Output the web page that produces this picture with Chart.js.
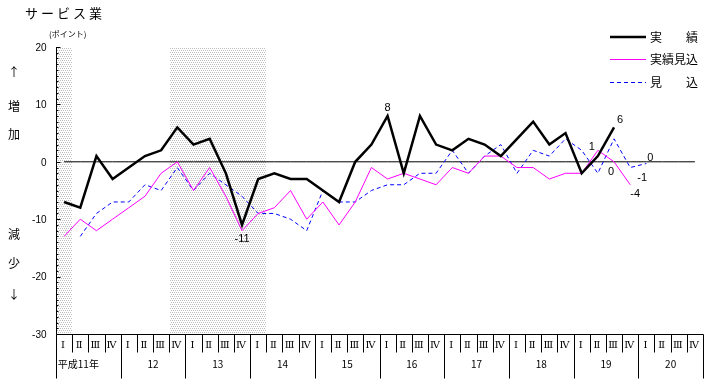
<!DOCTYPE html>
<html>
<head>
<meta charset="utf-8">
<script src="https://cdn.jsdelivr.net/npm/chart.js@4/dist/chart.umd.min.js"></script>
<style>
  html, body { margin: 0; padding: 0; background: #fff; }
</style>
</head>
<body>
<canvas id="chart" width="717" height="385"></canvas>
<script>
// 年・四半期
const years = ['平成11年', '12', '13', '14', '15', '16', '17', '18', '19', '20'];
const quarterNames = ['Ⅰ', 'Ⅱ', 'Ⅲ', 'Ⅳ'];
const yTicks = [20, 10, 0, -10, -20, -30];

// 実績
const jisseki = [-7, -8, 1, -3, -1, 1, 2, 6, 3, 4, -2, -11, -3, -2, -3, -3, -5, -7, 0, 3,
  8, -2, 8, 3, 2, 4, 3, 1, 4, 7, 3, 5, -2, 1, 6];
// 実績見込
const jissekiMikomi = [-13, -10, -12, -10, -8, -6, -2, 0, -5, -1, -6, -12, -9, -8, -5, -10, -7, -11, -7, -1,
  -3, -2, -3, -4, -1, -2, 1, 1, -1, -1, -3, -2, -2, 2, 0, -4];
// 見込
const mikomi = [null, -13, -9, -7, -7, -4, -5, -1, -5, -2, -4, -6, -9, -9, -10, -12, -5, -7, -7, -5,
  -4, -4, -2, -2, 2, -2, 1, 3, -2, 2, 1, 4, 2, -2, 4, -1, -0.3];

// 網掛け期間（四半期の番号、始めと終わり）
const shaded = [[0, 0], [7, 12]];

const labels = years.flatMap(y => quarterNames.map(q => y + q));

// 数値ラベルを付ける点
const pointLabels = [
  { ds: 0, i: 11, dx: 0, dy: 14 },
  { ds: 0, i: 20, dx: 0, dy: -8 },
  { ds: 0, i: 33, dx: -6, dy: -9 },
  { ds: 0, i: 34, dx: 6, dy: -7 },
  { ds: 1, i: 34, dx: -3, dy: 10 },
  { ds: 1, i: 35, dx: 5, dy: 9 },
  { ds: 2, i: 35, dx: 12, dy: 10 },
  { ds: 2, i: 36, dx: 4, dy: -6 },
];

const JP = '"Noto Sans CJK JP", sans-serif';
const NUM = '"Liberation Sans", Arial, sans-serif';

function dotPattern(ctx) {
  const c = document.createElement('canvas');
  c.width = 4; c.height = 4;
  const p = c.getContext('2d');
  p.fillStyle = '#bdbdbd';
  [[0, 0], [2, 0], [1, 2], [3, 2]].forEach(([x, y]) => p.fillRect(x, y, 1, 1));
  return ctx.createPattern(c, 'repeat');
}

const shading = {
  id: 'shading',
  beforeDatasetsDraw(chart) {
    const { ctx, chartArea, scales } = chart;
    const x = scales.x;
    const half = (x.getPixelForValue(1) - x.getPixelForValue(0)) / 2;
    ctx.save();
    ctx.fillStyle = dotPattern(ctx);
    shaded.forEach(([a, b]) => {
      const x1 = Math.round(x.getPixelForValue(a) - half) + 1;
      const x2 = Math.round(x.getPixelForValue(b) + half);
      ctx.fillRect(x1, chartArea.top, x2 - x1, chartArea.bottom - chartArea.top);
    });
    ctx.restore();
  }
};

const frame = {
  id: 'frame',
  afterDraw(chart) {
    const { ctx, chartArea, scales } = chart;
    const xs = scales.x, ys = scales.y;
    const left = Math.round(chartArea.left) + 0.5;
    const bottom = Math.round(chartArea.bottom) + 0.5;
    const right = Math.round(chartArea.right) + 0.5;
    const half = (xs.getPixelForValue(1) - xs.getPixelForValue(0)) / 2;
    ctx.save();
    ctx.strokeStyle = '#000';
    ctx.lineWidth = 1;
    ctx.beginPath();
    ctx.moveTo(left, chartArea.top);
    ctx.lineTo(left, bottom);
    ctx.lineTo(right, bottom);
    // 目盛
    for (let v = ys.min; v <= ys.max; v++) {
      const y = Math.round(ys.getPixelForValue(v)) + 0.5;
      const len = v % 10 === 0 ? 4 : 2;
      ctx.moveTo(left, y);
      ctx.lineTo(left + len, y);
    }
    // 区切り線
    labels.forEach((l, k) => {
      const x = Math.round(xs.getPixelForValue(k) - half) + 0.5;
      ctx.moveTo(x, bottom);
      ctx.lineTo(x, bottom + (k % 4 === 0 ? 44 : 18));
    });
    ctx.moveTo(right, bottom);
    ctx.lineTo(right, bottom + 44);
    ctx.stroke();

    ctx.fillStyle = '#000';
    ctx.textBaseline = 'middle';
    // y軸の数値
    ctx.font = '10px ' + NUM;
    ctx.textAlign = 'right';
    yTicks.forEach(v => ctx.fillText(String(v), left - 10, ys.getPixelForValue(v) + 1));

    // 四半期
    ctx.textAlign = 'center';
    ctx.font = '10px "DejaVu Serif", serif';
    labels.forEach((l, k) => {
      ctx.fillText(quarterNames[k % 4], xs.getPixelForValue(k) - 1, bottom + 11);
    });
    // 年
    ctx.font = '10px ' + JP;
    years.forEach((y, yi) => {
      const cx = (xs.getPixelForValue(yi * 4) + xs.getPixelForValue(yi * 4 + 3)) / 2;
      ctx.fillText(y, yi === 0 ? cx - 10 : cx, bottom + 30);
    });

    // タイトル
    ctx.textAlign = 'left';
    ctx.font = '13px ' + JP;
    [...'サービス業'].forEach((ch, k) => ctx.fillText(ch, 25 + k * 16, 13));
    ctx.font = '8px ' + JP;
    ctx.fillText('(ポイント)', 49, 34);

    // 左側の縦書き
    ctx.textAlign = 'center';
    ctx.font = '12px ' + JP;
    [['↑', 72], ['増', 106], ['加', 134], ['減', 234], ['少', 263], ['↓', 294]]
      .forEach(([t, y]) => ctx.fillText(t, 14, y));

    // 凡例
    const items = [
      { text: '実　　績', color: '#000', width: 2.5, dash: [], y: 37 },
      { text: '実績見込', color: '#ff00ff', width: 1, dash: [], y: 59.5 },
      { text: '見　　込', color: '#0000ff', width: 1, dash: [4, 3], y: 82.5 },
    ];
    ctx.textAlign = 'left';
    ctx.font = '12px ' + JP;
    items.forEach(it => {
      ctx.beginPath();
      ctx.strokeStyle = it.color;
      ctx.lineWidth = it.width;
      ctx.setLineDash(it.dash);
      ctx.moveTo(610, it.y);
      ctx.lineTo(646, it.y);
      ctx.stroke();
      ctx.fillText(it.text, 650, it.y);
    });
    ctx.setLineDash([]);

    // 数値ラベル
    ctx.textAlign = 'center';
    ctx.font = '11px ' + NUM;
    pointLabels.forEach(p => {
      const pt = chart.getDatasetMeta(p.ds).data[p.i];
      const v = chart.data.datasets[p.ds].data[p.i];
      ctx.fillText(String(Math.round(v)), pt.x + p.dx, pt.y + p.dy);
    });
    ctx.restore();
  }
};

new Chart(document.getElementById('chart'), {
  type: 'line',
  data: {
    labels: labels,
    datasets: [
      { label: '実績', data: jisseki, borderColor: '#000', borderWidth: 2.5, pointRadius: 0 },
      { label: '実績見込', data: jissekiMikomi, borderColor: '#ff00ff', borderWidth: 1, pointRadius: 0 },
      { label: '見込', data: mikomi, borderColor: '#0000ff', borderWidth: 1, borderDash: [4, 3], pointRadius: 0 },
      { label: 'zero', data: labels.map(() => 0), borderColor: '#000', borderWidth: 1, pointRadius: 0 },
    ]
  },
  options: {
    responsive: false,
    animation: false,
    layout: { padding: { left: 56, right: 14, top: 47, bottom: 51 } },
    elements: { line: { tension: 0, borderJoinStyle: 'miter' } },
    scales: {
      x: { display: false, offset: true },
      y: { display: false, min: -30, max: 20 }
    },
    plugins: {
      legend: { display: false },
      tooltip: { enabled: false }
    }
  },
  plugins: [shading, frame]
});
</script>
</body>
</html>
